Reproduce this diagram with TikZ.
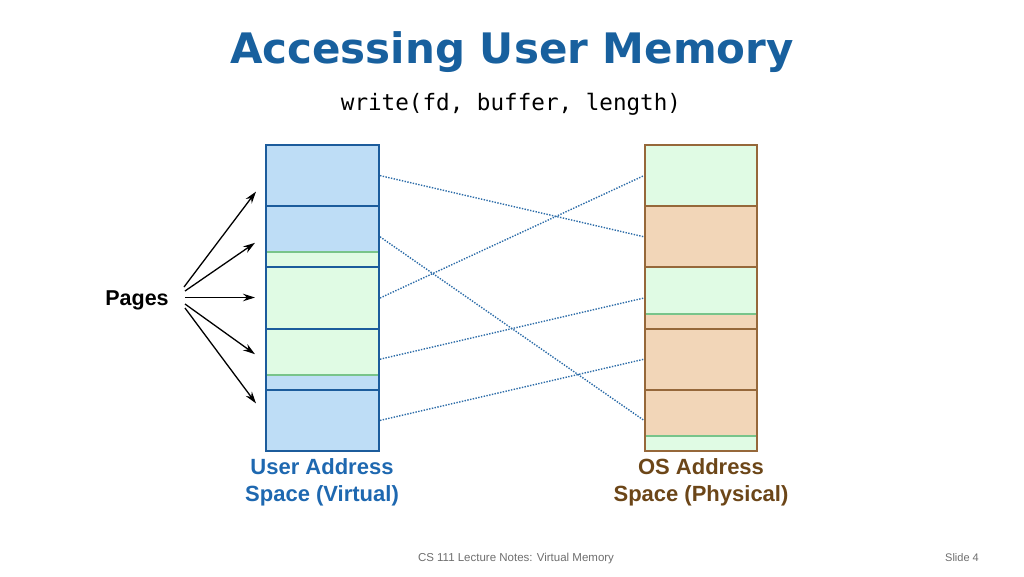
\documentclass[tikz,border=0pt]{standalone}
\usepackage{fontspec}
\setmainfont{Liberation Sans}
\newfontfamily\titlefont{DejaVu Sans}
\newfontfamily\codefont{DejaVu Sans Mono}
\usetikzlibrary{arrows.meta,calc}
\definecolor{titleblue}{RGB}{24,96,158}
\definecolor{pageblue}{RGB}{190,221,246}
\definecolor{edgeblue}{RGB}{28,92,156}
\definecolor{pagegreen}{RGB}{224,251,228}
\definecolor{linegreen}{RGB}{120,196,138}
\definecolor{pageorange}{RGB}{242,214,184}
\definecolor{edgebrown}{RGB}{150,104,58}
\definecolor{dotblue}{RGB}{44,108,168}
\definecolor{userblue}{RGB}{30,104,176}
\definecolor{osbrown}{RGB}{108,70,24}
\definecolor{footgray}{RGB}{110,110,110}
\tikzset{
  lpage/.style={draw=edgeblue,line width=2pt,minimum width=113pt,minimum height=61.2pt,inner sep=0pt},
  rpage/.style={draw=edgebrown,line width=2pt,minimum width=113pt,minimum height=61.2pt,inner sep=0pt},
  gline/.style={linegreen,line width=2pt},
  mapline/.style={dotblue,line width=1.4pt,dash pattern=on 1.4pt off 1.4pt},
  pagearrow/.style={black,line width=1.3pt,-{Stealth[length=12pt,width=7.5pt]}},
  collabel/.style={font=\bfseries\fontsize{22}{27}\selectfont,align=center},
}
\begin{document}
\begin{tikzpicture}[x=1pt,y=-1pt]
\useasboundingbox (0,0) rectangle (1024,576);
% title
\node[anchor=base,inner sep=0pt,text=titleblue,font=\titlefont\bfseries\fontsize{42}{45}\selectfont] (title) at (512,63.5) {Accessing User Memory};
\node[anchor=base,inner sep=0pt,font=\codefont\fontsize{22.6}{26}\selectfont] (call) at (511,110) {write(fd, buffer, length)};
% left column fills
\fill[pageblue] (266,145) rectangle (379,451);
\fill[pagegreen] (266,252) rectangle (379,375);
\draw[gline] (266,252) -- (379,252);
\draw[gline] (266,375) -- (379,375);
% right column fills
\fill[pageorange] (645,145) rectangle (757,451);
\fill[pagegreen] (645,145) rectangle (757,206.2);
\fill[pagegreen] (645,267.4) rectangle (757,314);
\fill[pagegreen] (645,436) rectangle (757,451);
\draw[gline] (645,314) -- (757,314);
\draw[gline] (645,436) -- (757,436);
% page nodes
\foreach \i/\y in {1/175.6,2/236.8,3/298,4/359.2,5/420.4}{
  \node[lpage] (L\i) at (322.5,\y) {};
  \node[rpage,minimum width=112pt] (R\i) at (701,\y) {};
}
% mappings
\draw[mapline] (L1.east) -- (R2.west);
\draw[mapline] (L2.east) -- (R5.west);
\draw[mapline] (L3.east) -- (R1.west);
\draw[mapline] (L4.east) -- (R3.west);
\draw[mapline] (L5.east) -- (R4.west);
% pages label and arrows
\node[anchor=base,inner sep=0pt,font=\bfseries\fontsize{21.5}{24}\selectfont] (P) at (137,305) {Pages};
\coordinate (s1) at (184,287);
\coordinate (s2) at (185,291);
\coordinate (s3) at (185,297.5);
\coordinate (s4) at (185,304);
\coordinate (s5) at (185,308);
\coordinate (e1) at ($(L1.west)+(-9,16)$);
\coordinate (e2) at ($(L2.west)+(-10,6)$);
\coordinate (e3) at ($(L3.west)+(-10,-0.5)$);
\coordinate (e4) at ($(L4.west)+(-10,-5)$);
\coordinate (e5) at ($(L5.west)+(-9,-17)$);
\foreach \i in {1,...,5}{\draw[pagearrow] (s\i) -- (e\i);}
% column labels
\node[collabel,text=userblue] (ulabel) at (322,482.5) {User Address\\Space (Virtual)};
\node[collabel,text=osbrown] (oslabel) at (701,482.5) {OS Address\\Space (Physical)};
% footer
\node[anchor=base,inner sep=0pt,text=footgray,font=\fontsize{11.5}{13}\selectfont] (foot) at (516,561.5) {CS 111 Lecture Notes: Virtual Memory};
\node[anchor=base,inner sep=0pt,text=footgray,font=\fontsize{11}{13}\selectfont] (slide) at (962,561.5) {Slide 4};
\end{tikzpicture}
\end{document}
